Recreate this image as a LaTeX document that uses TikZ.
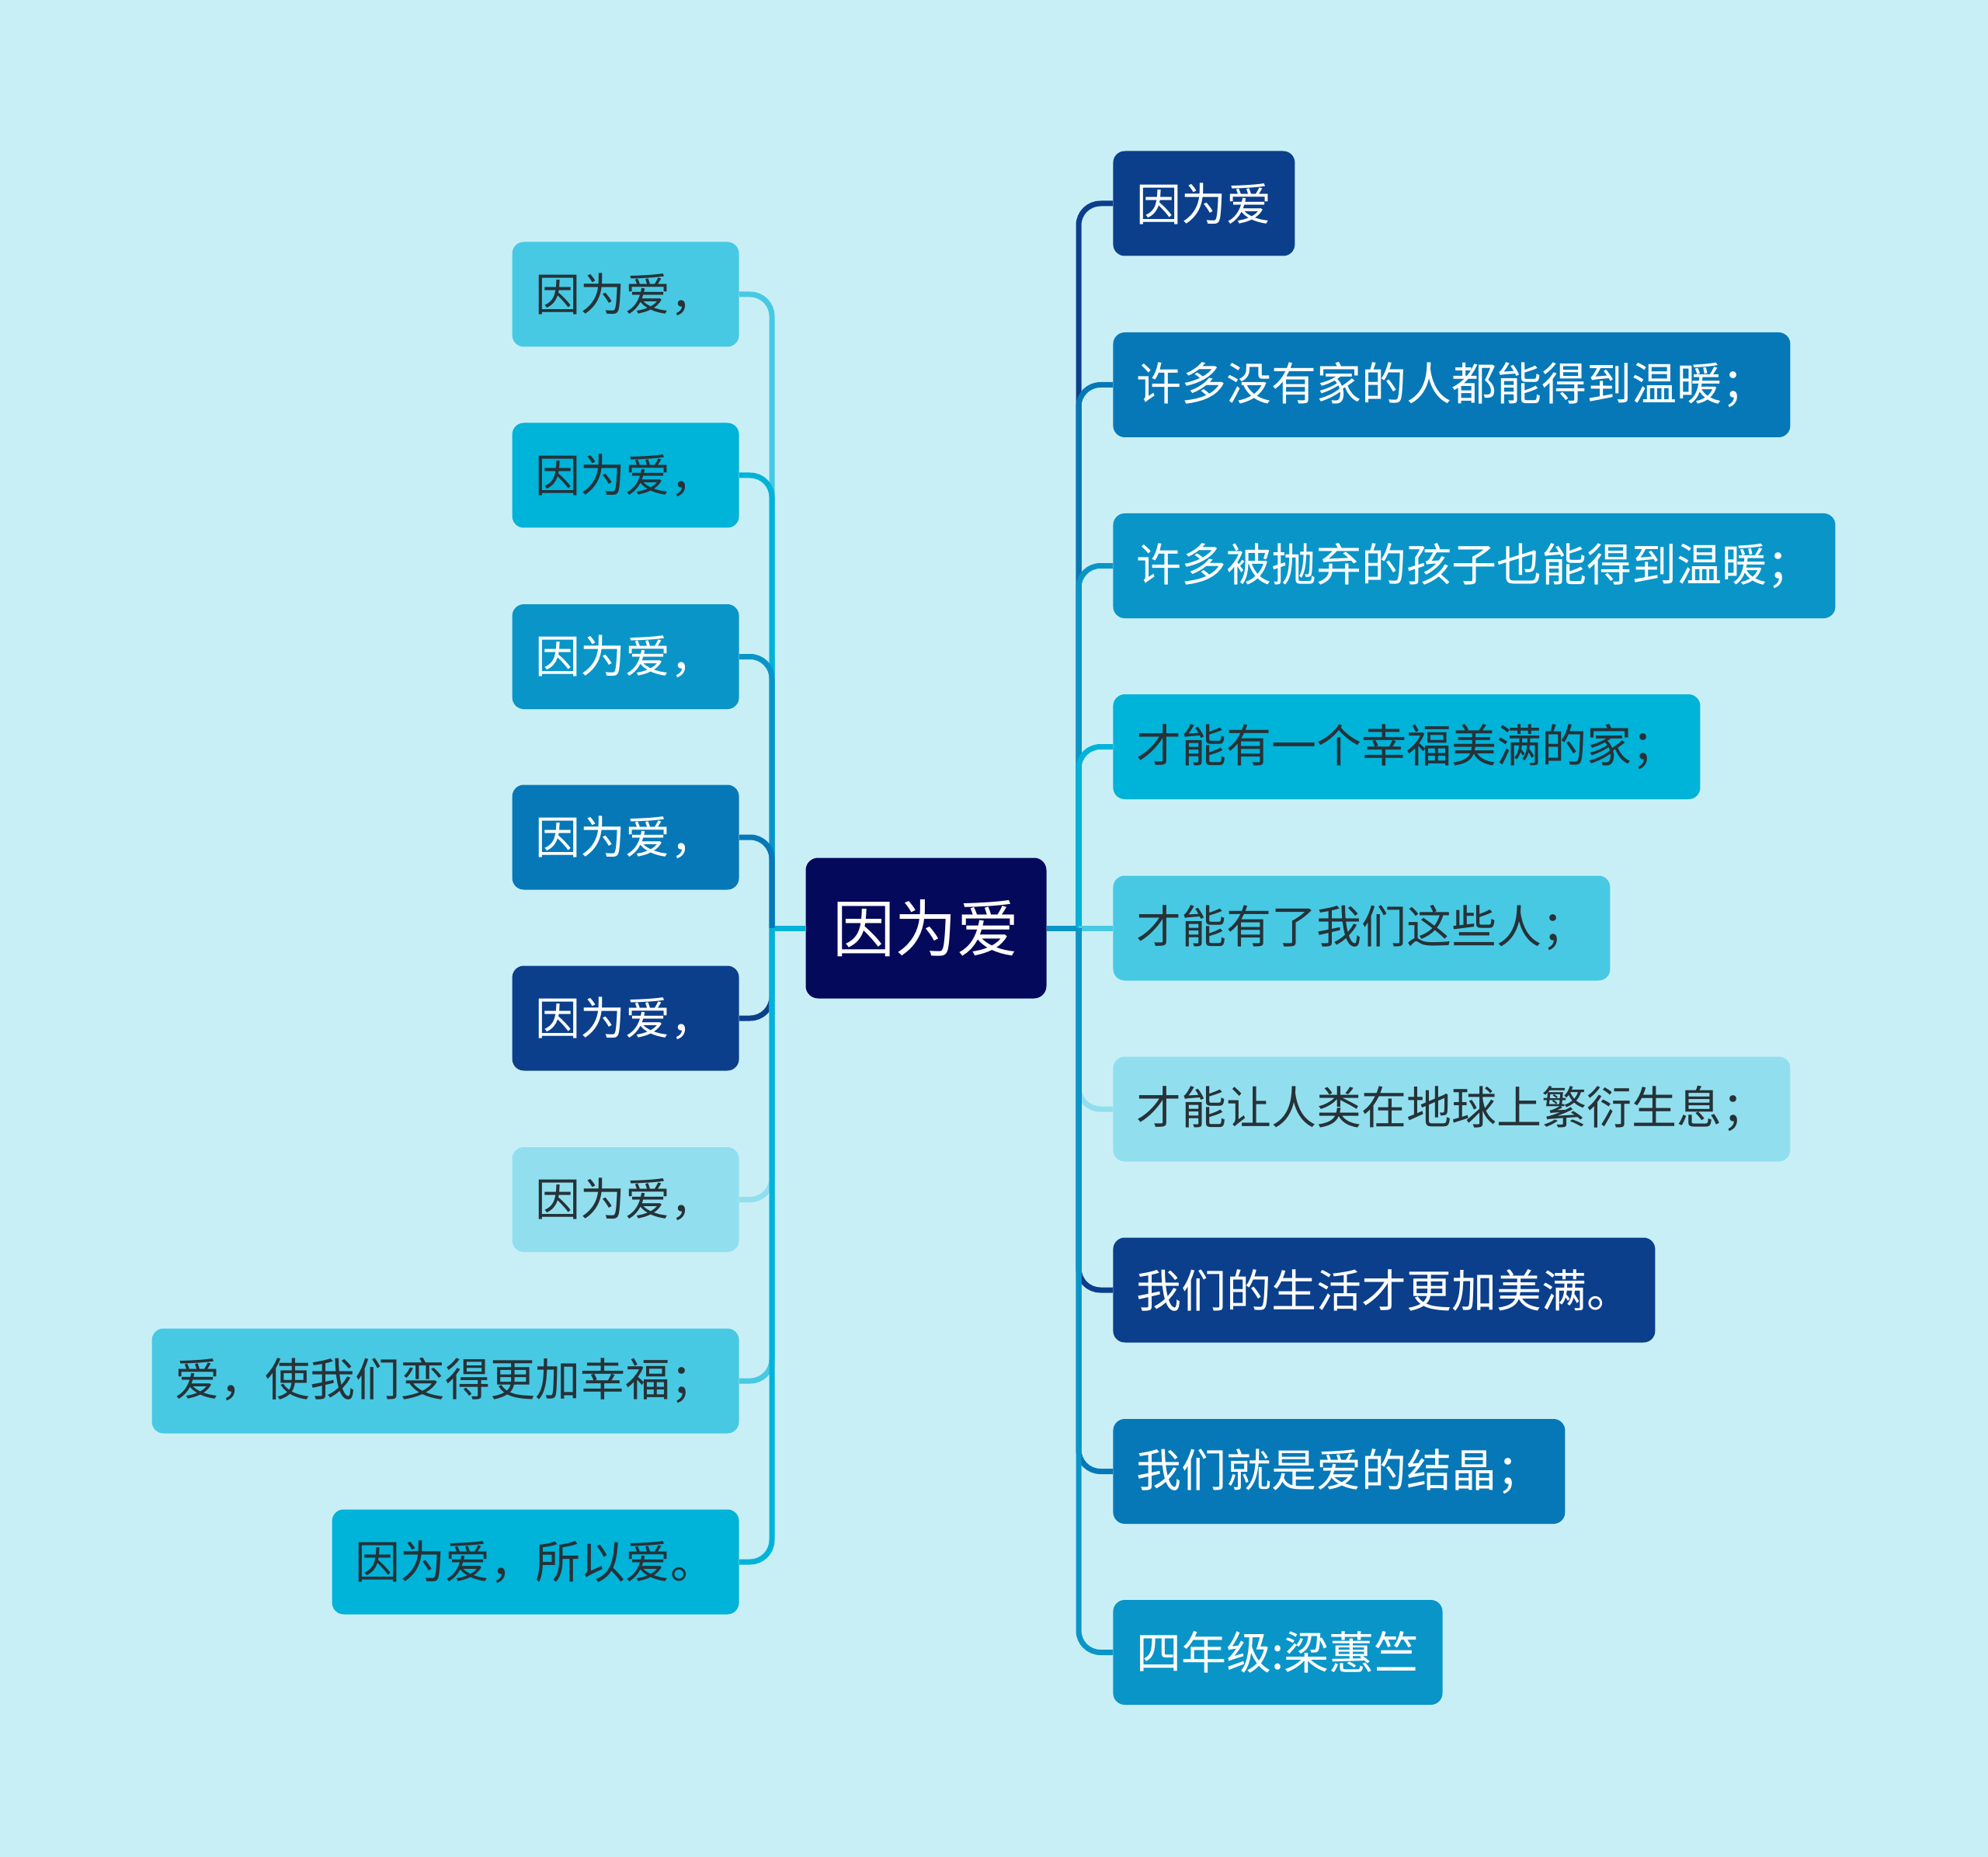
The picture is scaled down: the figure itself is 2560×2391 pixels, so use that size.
\documentclass[tikz,border=0pt]{standalone}
\usepackage{fontspec}
\setmainfont{Noto Sans CJK SC}
\definecolor{bg}{HTML}{C9EFF6}
\definecolor{cRoot}{HTML}{05095C}
\definecolor{cDark}{HTML}{0B3F8C}
\definecolor{cMid}{HTML}{0678B8}
\definecolor{cSky}{HTML}{0A95C8}
\definecolor{cCyan}{HTML}{00B3D8}
\definecolor{cLight}{HTML}{48C9E3}
\definecolor{cPale}{HTML}{91DFEE}
\definecolor{txt}{HTML}{263238}
\begin{document}
\begin{tikzpicture}[x=0.5pt,y=-0.5pt,
  box/.style={rounded corners=7.5pt, minimum height=67.5pt, inner xsep=15pt, inner ysep=0pt,
    font=\fontsize{29}{34}\selectfont},
  rbox/.style={box, anchor=west},
  lbox/.style={box, anchor=east},
  dk/.style={fill=cDark, text=white},
  md/.style={fill=cMid, text=white},
  sk/.style={fill=cSky, text=white},
  cy/.style={fill=cCyan, text=txt},
  lc/.style={fill=cLight, text=txt},
  pl/.style={fill=cPale, text=txt},
  link/.style={line width=3.5pt, rounded corners=14pt},
]
\fill[bg] (0,0) rectangle (2560,2391);
\useasboundingbox (0,0) rectangle (2560,2391);

\node[fill=cRoot, text=white, rounded corners=8pt, minimum width=155pt, minimum height=90.5pt,
  font=\fontsize{40}{46}\selectfont] (c) at (1192.5,1195) {因为爱};

\coordinate (rj) at (1389,1195);
\coordinate (lj) at (994,1195);

% right children
\node[rbox, dk] (r1) at (1433,262) {因为爱};
\node[rbox, md] (r2) at (1433,495.5) {许多没有家的人都能得到温暖；};
\node[rbox, sk] (r3) at (1433,728.5) {许多被抛弃的孩子也能得到温暖；};
\node[rbox, cy] (r4) at (1433,961.5) {才能有一个幸福美满的家；};
\node[rbox, lc] (r5) at (1433,1195) {才能有了我们这些人；};
\node[rbox, pl] (r6) at (1433,1428) {才能让人类在地球上繁衍生息；};
\node[rbox, dk] (r7) at (1433,1661) {我们的生活才更加美满。};
\node[rbox, md] (r8) at (1433,1894.5) {我们就是爱的结晶；};
\node[rbox, sk] (r9) at (1433,2127.5) {四年级:梁蕙竺};

% left children
\node[lbox, lc] (l1) at (952,379) {因为爱，};
\node[lbox, cy] (l2) at (952,612) {因为爱，};
\node[lbox, sk] (l3) at (952,845.5) {因为爱，};
\node[lbox, md] (l4) at (952,1078) {因为爱，};
\node[lbox, dk] (l5) at (952,1311) {因为爱，};
\node[lbox, pl] (l6) at (952,1544.5) {因为爱，};
\node[lbox, lc] (l7) at (952,1778) {爱，使我们变得更加幸福；};
\node[lbox, cy] (l8) at (952,2011) {因为爱，所以爱。};

% connectors right
\draw[line width=3.5pt, cSky] (c.east) -- (rj);
\draw[link, cDark] (rj) |- (r1.west);
\draw[link, cMid] (rj) |- (r2.west);
\draw[link, cSky] (rj) |- (r3.west);
\draw[link, cCyan] (rj) |- (r4.west);
\draw[link, cLight] (rj) -- (r5.west);
\draw[link, cPale] (rj) |- (r6.west);
\draw[link, cDark] (rj) |- (r7.west);
\draw[link, cMid] (rj) |- (r8.west);
\draw[link, cSky] (rj) |- (r9.west);

% connectors left
\draw[line width=3.5pt, cCyan] (c.west) -- (lj);
\draw[link, cLight] (lj) |- (l1.east);
\draw[link, cCyan] (lj) |- (l2.east);
\draw[link, cSky] (lj) |- (l3.east);
\draw[link, cMid] (lj) |- (l4.east);
\draw[link, cDark] (lj) |- (l5.east);
\draw[link, cPale] (lj) |- (l6.east);
\draw[link, cLight] (lj) |- (l7.east);
\draw[link, cCyan] (lj) |- (l8.east);
\end{tikzpicture}
\end{document}
